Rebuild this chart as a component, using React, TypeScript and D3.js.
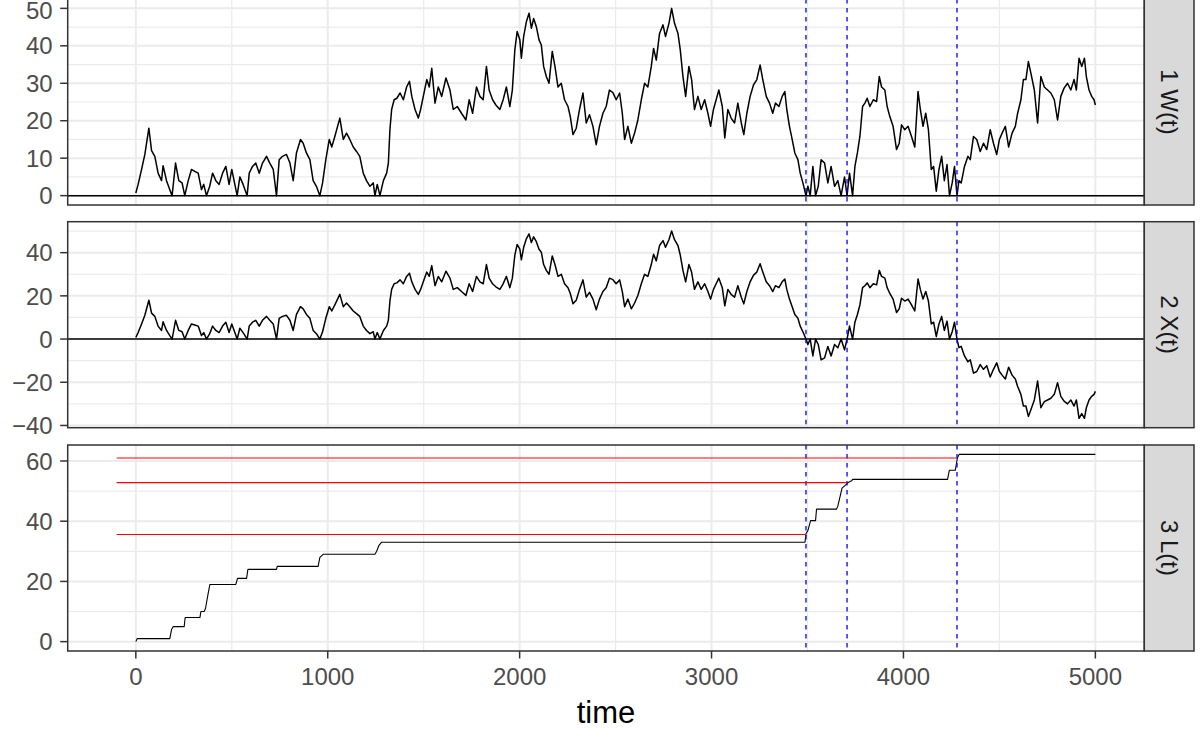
import * as d3 from 'd3';

// time grid shared by W(t) and X(t)
const timeWX = [
  0, 12, 30, 47, 68, 82, 99, 116, 134, 142, 160, 177, 189, 207, 224, 241, 255, 273, 290, 307,
  325, 342, 354, 368, 385, 400, 417, 434, 452, 469, 486, 500, 516, 528, 542, 559, 580, 591, 608, 625,
  643, 660, 681, 698, 716, 733, 747, 764, 785, 803, 820, 837, 858, 872, 889, 907, 924, 941, 959, 973,
  990, 1008, 1021, 1037, 1063, 1081, 1098, 1115, 1133, 1150, 1167, 1185, 1202, 1220, 1237, 1246, 1258, 1272, 1290, 1307,
  1316, 1324, 1333, 1346, 1360, 1377, 1394, 1411, 1426, 1438, 1455, 1472, 1484, 1498, 1516, 1529, 1542, 1559, 1576, 1594,
  1616, 1637, 1654, 1675, 1697, 1720, 1737, 1755, 1775, 1793, 1810, 1827, 1841, 1859, 1876, 1897, 1914, 1931, 1949, 1962,
  1975, 1987, 2001, 2009, 2021, 2035, 2049, 2061, 2073, 2087, 2101, 2113, 2125, 2139, 2153, 2170, 2184, 2200, 2217, 2234,
  2252, 2264, 2278, 2295, 2312, 2330, 2347, 2364, 2382, 2399, 2416, 2434, 2451, 2468, 2486, 2503, 2521, 2535, 2547, 2564,
  2582, 2599, 2616, 2634, 2651, 2668, 2686, 2698, 2712, 2729, 2747, 2760, 2778, 2792, 2807, 2825, 2837, 2851, 2865, 2882,
  2896, 2911, 2929, 2946, 2964, 2981, 2995, 3010, 3024, 3038, 3056, 3069, 3085, 3102, 3120, 3137, 3155, 3168, 3184, 3201,
  3219, 3236, 3253, 3267, 3285, 3302, 3319, 3333, 3351, 3368, 3382, 3392, 3406, 3420, 3434, 3450, 3462, 3476, 3492, 3502,
  3514, 3528, 3542, 3556, 3571, 3589, 3606, 3623, 3641, 3658, 3675, 3693, 3706, 3719, 3735, 3747, 3760, 3773, 3787, 3799,
  3811, 3825, 3843, 3860, 3874, 3886, 3903, 3915, 3929, 3946, 3964, 3978, 3990, 4007, 4024, 4042, 4059, 4076, 4088, 4102,
  4116, 4130, 4145, 4157, 4171, 4185, 4199, 4213, 4227, 4240, 4254, 4266, 4279, 4289, 4301, 4318, 4336, 4348, 4365, 4382,
  4400, 4417, 4434, 4452, 4469, 4486, 4500, 4514, 4531, 4548, 4566, 4583, 4595, 4612, 4625, 4638, 4651, 4664, 4682, 4699,
  4716, 4734, 4751, 4768, 4786, 4803, 4820, 4837, 4855, 4872, 4889, 4901, 4915, 4929, 4943, 4953, 4967, 4981, 4993, 5000,
];

const wSeries = [
  0.7, 3, 7, 11, 18, 12, 10.5, 6, 4, 8, 4, 1.6, 0, 8.7, 4, 3.4, 0, 4, 7, 6.5,
  6, 1.6, 3, 0, 2.5, 6, 4, 3, 6, 7.8, 3, 7, 3, 0, 5, 3, 0, 6, 7.8, 8.7,
  6, 8.7, 10.5, 8.7, 7, 0, 9.6, 10.5, 11, 8.7, 4, 11.4, 15, 14, 11.4, 9.6, 4, 2.5, 0, 3.4,
  9.6, 15, 13, 15.8, 20.7, 15, 16.7, 15, 13, 11.8, 10.5, 6, 4, 2.5, 3.4, 0, 3, 0, 4, 6,
  8.7, 17.6, 23, 25.6, 26, 27.4, 25.6, 29, 30.5, 26.5, 23, 20.7, 23, 26.5, 31, 29, 34, 24.7, 29, 26.5,
  31.4, 28.2, 23, 23.8, 22, 20.2, 25.6, 22, 29, 26.5, 25.6, 34.5, 28.2, 25.6, 24.2, 23, 25.6, 29, 23.8, 28.2,
  38.9, 43.8, 41.6, 36.7, 42.5, 46.4, 48.7, 44.7, 47.3, 45.1, 41.6, 40.2, 34.5, 31.8, 30, 38.5, 34.5, 29, 30, 25.6,
  23.8, 21.1, 16.3, 18, 23, 27.4, 19.4, 21.6, 18.5, 13.6, 18.5, 22, 23.8, 28.2, 27.5, 25.6, 27.4, 22, 15, 18.5,
  14, 16.7, 20.2, 25.6, 30, 29, 34.5, 39.3, 36.2, 43.3, 45.6, 42.5, 46, 50, 46, 43.3, 38.9, 31.8, 26.5, 34.5,
  31, 23, 26.5, 23, 25.6, 22, 18.5, 23, 25.6, 28.2, 23.8, 15.4, 23, 20.7, 19.4, 24.7, 19.4, 16.3, 22, 26.5,
  29.6, 31, 34.9, 31, 26.5, 24.7, 22, 24.7, 23.8, 26.5, 27.8, 23, 18.5, 15, 11.4, 9.6, 6, 3.4, 0, 2.5,
  0, 7.8, 0, 2.5, 9.6, 8.7, 3.4, 7.8, 2.5, 4, 0, 5, 0, 6, 0, 7.8, 11.4, 15.8, 23.8, 24.7,
  26, 23.8, 25.6, 25.1, 31.8, 29, 28.2, 23.8, 21.1, 18.5, 12.3, 14, 18.9, 17.6, 18.5, 15.8, 13, 27.8, 23, 18.5,
  22, 17.6, 7, 7.8, 1.2, 7, 10.5, 4, 8.3, 0, 3.4, 7.8, 0, 4, 3.4, 7.8, 10.5, 9.6, 15.8, 15,
  11.8, 14, 12.3, 17.6, 14, 11, 15, 16.7, 18.5, 13, 16.7, 18.5, 22, 25.6, 31, 31, 35.8, 32.7, 28.2, 19.4,
  31.8, 29, 28.2, 27.4, 25.6, 20.2, 26.5, 28.7, 30, 28.2, 31, 28.2, 36.7, 34.5, 36.7, 31.8, 28.2, 26.5, 25.6, 24.2,
];

const xSeries = [
  0.7, 3, 7, 11, 18, 12, 10.5, 6, 4, 8, 4, 1.6, 0, 8.7, 4, 3.4, 0, 4, 7, 6.5,
  6, 1.6, 3, 0, 2.5, 6, 4, 3, 6, 7.8, 3, 7, 3, 0, 5, 3, 0, 6, 7.8, 8.7,
  6, 8.7, 10.5, 8.7, 7, 0, 9.6, 10.5, 11, 8.7, 4, 11.4, 15, 14, 11.4, 9.6, 4, 2.5, 0, 3.4,
  9.6, 15, 13, 15.8, 20.7, 15, 16.7, 15, 13, 11.8, 10.5, 6, 4, 2.5, 3.4, 0, 3, 0, 4, 6,
  8.7, 17.6, 23, 25.6, 26, 27.4, 25.6, 29, 30.5, 26.5, 23, 20.7, 23, 26.5, 31, 29, 34, 24.7, 29, 26.5,
  31.4, 28.2, 23, 23.8, 22, 20.2, 25.6, 22, 29, 26.5, 25.6, 34.5, 28.2, 25.6, 24.2, 23, 25.6, 29, 23.8, 28.2,
  38.9, 43.8, 41.6, 36.7, 42.5, 46.4, 48.7, 44.7, 47.3, 45.1, 41.6, 40.2, 34.5, 31.8, 30, 38.5, 34.5, 29, 30, 25.6,
  23.8, 21.1, 16.3, 18, 23, 27.4, 19.4, 21.6, 18.5, 13.6, 18.5, 22, 23.8, 28.2, 27.5, 25.6, 27.4, 22, 15, 18.5,
  14, 16.7, 20.2, 25.6, 30, 29, 34.5, 39.3, 36.2, 43.3, 45.6, 42.5, 46, 50, 46, 43.3, 38.9, 31.8, 26.5, 34.5,
  31, 23, 26.5, 23, 25.6, 22, 18.5, 23, 25.6, 28.2, 23.8, 15.4, 23, 20.7, 19.4, 24.7, 19.4, 16.3, 22, 26.5,
  29.6, 31, 34.9, 31, 26.5, 24.7, 22, 24.7, 23.8, 26.5, 27.8, 23, 18.5, 15, 11.4, 9.6, 6, 3.4, 0, -2.5,
  0, -7.8, 0, -2.5, -9.6, -8.7, -3.4, -7.8, -2.5, -4, 0, -5, 0, 6, 0, 7.8, 11.4, 15.8, 23.8, 24.7,
  26, 23.8, 25.6, 25.1, 31.8, 29, 28.2, 23.8, 21.1, 18.5, 12.3, 14, 18.9, 17.6, 18.5, 15.8, 13, 27.8, 23, 18.5,
  22, 17.6, 7, 7.8, 1.2, 7, 10.5, 4, 8.3, 0, 3.4, 7.8, 0, -4, -3.4, -7.8, -10.5, -9.6, -15.8, -15,
  -11.8, -14, -12.3, -17.6, -14, -11, -15, -16.7, -18.5, -13, -16.7, -18.5, -22, -25.6, -31, -31, -35.8, -32.7, -28.2, -19.4,
  -31.8, -29, -28.2, -27.4, -25.6, -20.2, -26.5, -28.7, -30, -28.2, -31, -28.2, -36.7, -34.5, -36.7, -31.8, -28.2, -26.5, -25.6, -24.2,
];

// L(t) step path
const timeL = [
  0, 7, 177, 186, 195, 252, 257, 334, 339, 356, 363, 377, 386, 521, 530, 577, 584, 733, 737, 950,
  959, 976, 1246, 1255, 1267, 1280, 3487, 3492, 3502, 3516, 3542, 3547, 3651, 3658, 3680, 3698,
  3710, 3730, 3735, 4230, 4239, 4270, 4281, 4290, 5000,
];
const lSeries = [
  0, 1, 1, 4, 5, 5, 8, 8, 10, 10, 11, 16, 19, 19, 21, 21, 24, 24, 25, 25,
  28, 29, 29, 30, 32, 33, 33, 35.8, 36.9, 40.2, 40.2, 44, 44, 45, 51, 52,
  52.8, 53.4, 53.9, 53.9, 56.9, 56.9, 61, 62.2, 62.2,
];

const eventTimes = [3492, 3706, 4279];
const redLevels = [61, 52.8, 35.6];
const redStart = -100;

const xTicks = [0, 1000, 2000, 3000, 4000, 5000];
const xMinor = [500, 1500, 2500, 3500, 4500];
const panelLabels = ['1 W(t)', '2 X(t)', '3 L(t)'];
const yTicksW = [0, 10, 20, 30, 40, 50];
const yMinorW = [5, 15, 25, 35, 45];
const yTicksX = [-40, -20, 0, 20, 40];
const yMinorX = [-30, -10, 10, 30, 50];
const yTicksL = [0, 20, 40, 60];
const yMinorL = [10, 30, 50];

const LEFT = 67.7;
const RIGHT = 1144.3;
const STRIP_R = 1194;
const BOXES = [
  { top: -1, bottom: 205 },
  { top: 221.7, bottom: 427.7 },
  { top: 445, bottom: 651 },
];
const FONT = '"Liberation Sans", Arial, Helvetica, sans-serif';

const expand = (ext: [number, number]): [number, number] => {
  const r = ext[1] - ext[0];
  return [ext[0] - 0.05 * r, ext[1] + 0.05 * r];
};
const fmt = (d: number) => (d < 0 ? '\u2212' + Math.abs(d) : String(d));

export default function App() {
  const xScale = d3.scaleLinear()
    .domain(expand(d3.extent([redStart, ...timeWX, ...timeL]) as [number, number]))
    .range([LEFT, RIGHT]);

  const wPts = timeWX.map((t, i) => [t, wSeries[i]] as [number, number]);
  const xPts = timeWX.map((t, i) => [t, xSeries[i]] as [number, number]);
  const lPts = timeL.map((t, i) => [t, lSeries[i]] as [number, number]);

  const panels = [
    { pts: wPts, ext: d3.extent(wSeries), ticks: yTicksW, minor: yMinorW, hline: true, red: false },
    { pts: xPts, ext: d3.extent(xSeries), ticks: yTicksX, minor: yMinorX, hline: true, red: false },
    { pts: lPts, ext: d3.extent([...lSeries, ...redLevels]), ticks: yTicksL, minor: yMinorL, hline: false, red: true },
  ].map((p, i) => ({
    ...p,
    box: BOXES[i],
    label: panelLabels[i],
    y: d3.scaleLinear().domain(expand(p.ext as [number, number])).range([BOXES[i].bottom, BOXES[i].top]),
  }));

  const axisBottom = BOXES[2].bottom;

  return (
    <svg width={1202} height={731} style={{ position: 'fixed', left: 0, top: 0, background: '#fff' }} fontFamily={FONT}>
      <rect x={0} y={0} width={1202} height={731} fill="#fff" />
      {panels.map((p, pi) => {
        const line = d3.line<[number, number]>().x(d => xScale(d[0])).y(d => p.y(d[1]));
        const { top, bottom } = p.box;
        return (
          <g key={pi}>
            {/* grid */}
            {xMinor.map(v => (
              <line key={'xm' + v} x1={xScale(v)} x2={xScale(v)} y1={top} y2={bottom} stroke="#EBEBEB" strokeWidth={1.2} />
            ))}
            {p.minor.map(v => (
              <line key={'ym' + v} x1={LEFT} x2={RIGHT} y1={p.y(v)} y2={p.y(v)} stroke="#EBEBEB" strokeWidth={1.2} />
            ))}
            {xTicks.map(v => (
              <line key={'xg' + v} x1={xScale(v)} x2={xScale(v)} y1={top} y2={bottom} stroke="#EBEBEB" strokeWidth={2} />
            ))}
            {p.ticks.map(v => (
              <line key={'yg' + v} x1={LEFT} x2={RIGHT} y1={p.y(v)} y2={p.y(v)} stroke="#EBEBEB" strokeWidth={2} />
            ))}

            {p.hline && (
              <line x1={LEFT} x2={RIGHT} y1={p.y(0)} y2={p.y(0)} stroke="#000" strokeWidth={1.5} />
            )}
            <path d={line(p.pts) ?? ''} fill="none" stroke="#000" strokeWidth={p.red ? 1.1 : 1.5} strokeLinejoin="round" />

            {eventTimes.map(t => (
              <line key={'ev' + t} x1={xScale(t)} x2={xScale(t)} y1={top} y2={bottom}
                stroke="#0000FF" strokeWidth={1.3} strokeDasharray="4.5,4.5" />
            ))}
            {p.red && redLevels.map((lv, i) => (
              <line key={'red' + i} x1={xScale(redStart)} x2={xScale(eventTimes[eventTimes.length - 1 - i])}
                y1={p.y(lv)} y2={p.y(lv)} stroke="#FF0000" strokeWidth={1.1} />
            ))}

            {/* panel border */}
            <rect x={LEFT} y={top} width={RIGHT - LEFT} height={bottom - top} fill="none" stroke="#333333" strokeWidth={1.5} />

            {/* strip */}
            <rect x={RIGHT} y={top} width={STRIP_R - RIGHT} height={bottom - top} fill="#D9D9D9" stroke="#333333" strokeWidth={1.5} />
            <text transform={`translate(${(RIGHT + STRIP_R) / 2},${(top + bottom) / 2}) rotate(90)`}
              textAnchor="middle" dy="0.36em" fontSize={24} fill="#1A1A1A">{p.label}</text>

            {/* y axis */}
            {p.ticks.map(v => (
              <g key={'yt' + v}>
                <line x1={LEFT - 7.5} x2={LEFT} y1={p.y(v)} y2={p.y(v)} stroke="#333333" strokeWidth={1.5} />
                <text x={LEFT - 15} y={Math.max(p.y(v), 10.8)} dy="0.36em" textAnchor="end" fontSize={24} fill="#4D4D4D">{fmt(v)}</text>
              </g>
            ))}
          </g>
        );
      })}

      {/* x axis */}
      {xTicks.map(v => (
        <g key={'xt' + v}>
          <line x1={xScale(v)} x2={xScale(v)} y1={axisBottom} y2={axisBottom + 7.5} stroke="#333333" strokeWidth={1.5} />
          <text x={xScale(v)} y={685} textAnchor="middle" fontSize={24} fill="#4D4D4D">{fmt(v)}</text>
        </g>
      ))}
      <text x={(LEFT + RIGHT) / 2} y={723.3} textAnchor="middle" fontSize={31} fill="#000">time</text>
    </svg>
  );
}
